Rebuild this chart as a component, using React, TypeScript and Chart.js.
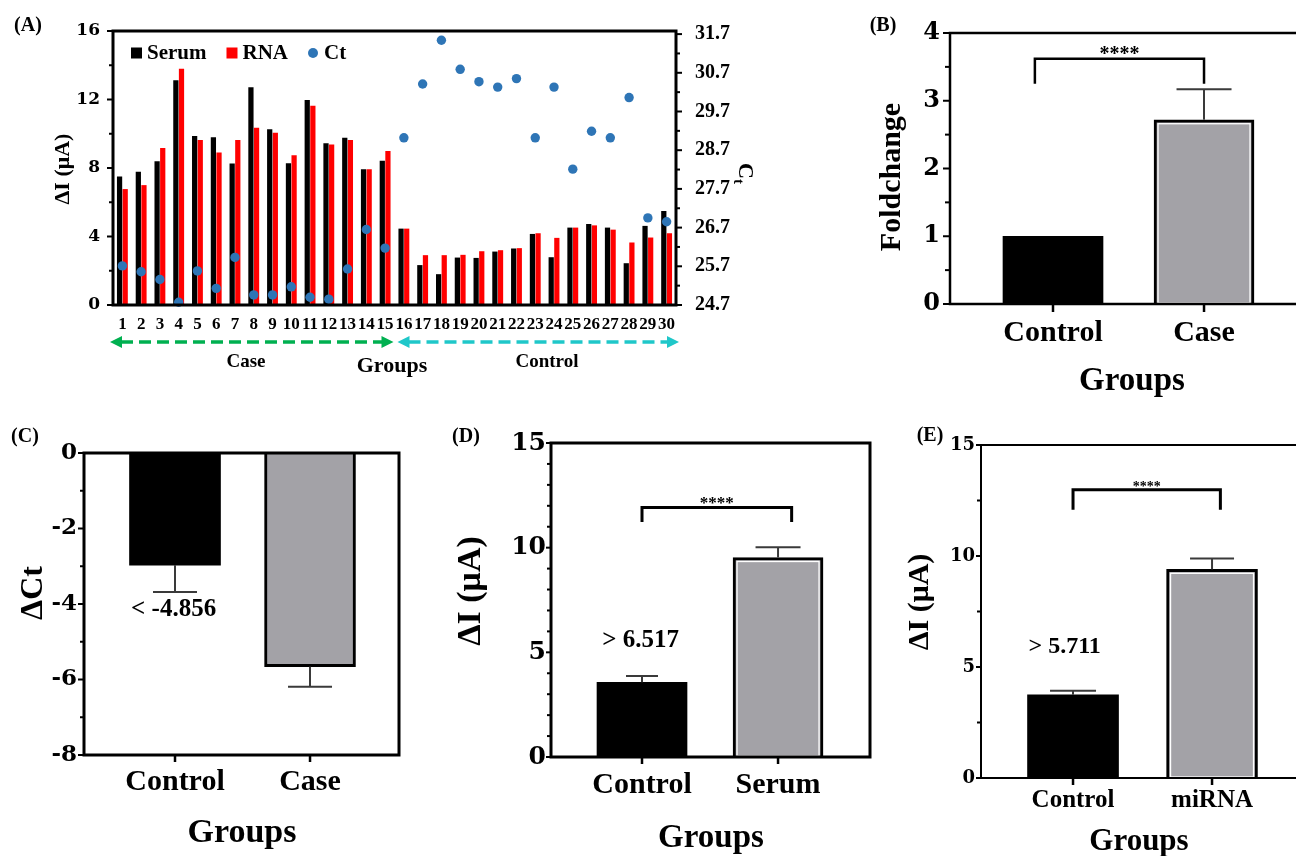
import { useEffect, useRef } from 'react';
import { Chart, registerables } from 'chart.js';

Chart.register(...registerables);

const SERIF = "'Liberation Serif', 'Times New Roman', serif";
const WIDE = "'DejaVu Serif', serif";

// ---------- Panel A data ----------
const SAMPLES = ['1', '2', '3', '4', '5', '6', '7', '8', '9', '10', '11', '12', '13', '14', '15',
  '16', '17', '18', '19', '20', '21', '22', '23', '24', '25', '26', '27', '28', '29', '30'];
const SERUM = [7.5, 7.78, 8.4, 13.13, 9.87, 9.79, 8.26, 12.72, 10.26, 8.28, 11.97, 9.44, 9.77, 7.93, 8.42,
  4.46, 2.33, 1.8, 2.77, 2.75, 3.12, 3.3, 4.15, 2.79, 4.52, 4.73, 4.52, 2.44, 4.62, 5.49];
const RNA = [6.77, 7.0, 9.17, 13.8, 9.64, 8.9, 9.64, 10.35, 10.06, 8.74, 11.63, 9.37, 9.64, 7.93, 9.0,
  4.46, 2.91, 2.91, 2.93, 3.14, 3.2, 3.32, 4.19, 3.92, 4.52, 4.65, 4.4, 3.65, 3.94, 4.19];
const CT = [25.71, 25.56, 25.36, 24.77, 25.58, 25.13, 25.93, 24.96, 24.96, 25.17, 24.9, 24.85, 25.63, 26.65, 26.17,
  29.02, 30.41, 31.54, 30.79, 30.47, 30.33, 30.55, 29.02, 30.33, 28.21, 29.19, 29.02, 30.06, 26.95, 26.85];
const DI_TICKS = [0, 4, 8, 12, 16];
const CT_TICKS = [24.7, 25.7, 26.7, 27.7, 28.7, 29.7, 30.7, 31.7];

// ---------- Panel B ----------
const B_GROUPS = ['Control', 'Case'];
const B_FOLD = [1.0, 2.72];
const B_ERR = [0, 0.45];
// ---------- Panel C ----------
const C_GROUPS = ['Control', 'Case'];
const C_DCT = [-2.97, -5.66];
const C_ERR = [0.71, 0.53];
// ---------- Panel D ----------
const D_GROUPS = ['Control', 'Serum'];
const D_DI = [3.57, 9.53];
const D_ERR = [0.30, 0.49];
// ---------- Panel E ----------
const E_GROUPS = ['Control', 'miRNA'];
const E_DI = [3.75, 9.40];
const E_ERR = [0.18, 0.49];

function txt(ctx: CanvasRenderingContext2D, s: string, x: number, y: number, size: number,
  o: { family?: string; align?: CanvasTextAlign; baseline?: CanvasTextBaseline; rot?: number; color?: string } = {}) {
  ctx.save();
  ctx.translate(x, y);
  if (o.rot) ctx.rotate(o.rot);
  ctx.font = `bold ${size}px ${o.family ?? SERIF}`;
  ctx.fillStyle = o.color ?? '#000';
  ctx.textAlign = o.align ?? 'center';
  ctx.textBaseline = o.baseline ?? 'middle';
  ctx.fillText(s, 0, 0);
  ctx.restore();
}

function seg(ctx: CanvasRenderingContext2D, x1: number, y1: number, x2: number, y2: number) {
  ctx.beginPath();
  ctx.moveTo(x1, y1);
  ctx.lineTo(x2, y2);
  ctx.stroke();
}

function dashedArrow(ctx: CanvasRenderingContext2D, x1: number, x2: number, y: number, color: string) {
  ctx.save();
  ctx.strokeStyle = color;
  ctx.fillStyle = color;
  ctx.lineWidth = 3.5;
  ctx.setLineDash([12, 6]);
  seg(ctx, x1 + 11, y, x2 - 11, y);
  ctx.setLineDash([]);
  ctx.beginPath();
  ctx.moveTo(x1, y); ctx.lineTo(x1 + 12, y - 6); ctx.lineTo(x1 + 12, y + 6); ctx.closePath(); ctx.fill();
  ctx.beginPath();
  ctx.moveTo(x2, y); ctx.lineTo(x2 - 12, y - 6); ctx.lineTo(x2 - 12, y + 6); ctx.closePath(); ctx.fill();
  ctx.restore();
}

function buildA(canvas: HTMLCanvasElement) {
  const decor = {
    id: 'decorA',
    afterDraw(chart: any) {
      const ctx: CanvasRenderingContext2D = chart.ctx;
      const { left, right, top, bottom } = chart.chartArea;
      const xs = chart.scales.x, ys = chart.scales.y, y2 = chart.scales.y2;
      ctx.save();
      ctx.strokeStyle = '#000';
      ctx.lineWidth = 2;
      ys.ticks.forEach((t: any) => { const p = ys.getPixelForValue(t.value); seg(ctx, left - (t.label ? 6 : 4), p, left, p); });
      y2.ticks.forEach((t: any) => { const p = y2.getPixelForValue(t.value); seg(ctx, right, p, right + (t.label ? 6 : 4), p); });
      ctx.lineWidth = 3;
      ctx.strokeRect(left, top, right - left, bottom - top);
      // legend
      let lx = left + 18;
      const ly = top + 22;
      chart.data.datasets.forEach((ds: any) => {
        ctx.fillStyle = ds.type === 'line' ? ds.pointBackgroundColor : ds.backgroundColor;
        if (ds.type === 'line') {
          ctx.beginPath(); ctx.arc(lx + 5, ly, 5, 0, Math.PI * 2); ctx.fill();
        } else {
          ctx.fillRect(lx, ly - 5.5, 11, 11);
        }
        ctx.font = `bold 21px ${SERIF}`;
        const w = ctx.measureText(ds.label).width;
        txt(ctx, ds.label, lx + 16, ly + 1, 21, { align: 'left' });
        lx += 16 + w + 20;
      });
      // titles
      txt(ctx, '(A)', 28, 26, 20);
      txt(ctx, 'ΔI (μA)', 63, 169, 22, { rot: -Math.PI / 2 });
      ctx.save();
      ctx.translate(746, 172);
      ctx.rotate(Math.PI / 2);
      ctx.fillStyle = '#000';
      ctx.textBaseline = 'alphabetic';
      ctx.textAlign = 'left';
      ctx.font = `bold 22px ${SERIF}`;
      ctx.fillText('C', -9, 7);
      ctx.font = `bold 15px ${SERIF}`;
      ctx.fillText('t', 7, 12);
      ctx.restore();
      // group arrows
      const split = (xs.getPixelForValue(14) + xs.getPixelForValue(15)) / 2;
      dashedArrow(ctx, left - 3, split - 1, 342, '#00b050');
      dashedArrow(ctx, split + 3, right + 3, 342, '#1fc7c9');
      txt(ctx, 'Case', 246, 362, 19);
      txt(ctx, 'Groups', 392, 366, 22);
      txt(ctx, 'Control', 547, 362, 19);
      ctx.restore();
    },
  };
  const ctTickValues: number[] = [];
  CT_TICKS.forEach((v, i) => {
    ctTickValues.push(v);
    if (i < CT_TICKS.length - 1) ctTickValues.push(+(v + 0.5).toFixed(1));
  });
  return new Chart(canvas, {
    data: {
      labels: SAMPLES,
      datasets: [
        { type: 'bar', label: 'Serum', data: SERUM, backgroundColor: '#000000', yAxisID: 'y', order: 2, barPercentage: 0.93, categoryPercentage: 0.6 },
        { type: 'bar', label: 'RNA', data: RNA, backgroundColor: '#ff0000', yAxisID: 'y', order: 2, barPercentage: 0.93, categoryPercentage: 0.6 },
        { type: 'line', label: 'Ct', data: CT, yAxisID: 'y2', order: 1, showLine: false, pointRadius: 4.7, pointBackgroundColor: '#2e75b6', pointBorderWidth: 0, borderColor: '#2e75b6', clip: false } as any,
      ],
    } as any,
    options: {
      responsive: false,
      animation: false,
      devicePixelRatio: 1,
      layout: { padding: { top: 30, left: 0, right: 0, bottom: 0 } },
      plugins: { legend: { display: false }, tooltip: { enabled: false } },
      scales: {
        x: {
          type: 'category',
          grid: { display: false, drawTicks: false },
          border: { display: false },
          ticks: { font: { family: SERIF, size: 17, weight: 'bold' }, color: '#000', padding: 9, autoSkip: false, maxRotation: 0, minRotation: 0 },
          afterFit: (s: any) => { s.height = 75; },
        },
        y: {
          position: 'left', min: 0, max: 16,
          grid: { display: false, drawTicks: false },
          border: { display: false },
          ticks: { stepSize: 2, autoSkip: false, callback: (v: any) => (DI_TICKS.includes(Number(v)) ? String(v) : ''), font: { family: WIDE, size: 17, weight: 'bold' }, color: '#000', padding: 13 },
          afterFit: (s: any) => { s.width = 113; },
        },
        y2: {
          position: 'right', min: 24.7, max: 31.78,
          grid: { display: false, drawTicks: false },
          border: { display: false },
          afterBuildTicks: (s: any) => { s.ticks = ctTickValues.map((v) => ({ value: v })); },
          ticks: { autoSkip: false, callback: (v: any) => (CT_TICKS.includes(Number(v)) ? Number(v).toFixed(1) : ''), font: { family: SERIF, size: 20, weight: 'bold' }, color: '#000', padding: 19 },
          afterFit: (s: any) => { s.width = 84; },
        },
      },
    } as any,
    plugins: [decor],
  });
}

type GP = {
  ox: number; oy: number;
  groups: string[]; means: number[]; errs: number[];
  ymin: number; ymax: number; ystep: number; ylabel: number;
  xmin: number; xmax: number; barW: number; caps: number[];
  inner: boolean; openRight: boolean; frameW: number;
  leftW: number; topPad: number; rightPad: number; bottomH: number;
  tickFont: number; xFont: number; yPad: number; xPad: number;
  tickMajor: number; tickMinor: number; xTick: number;
  bracket?: { x1: number; x2: number; top: number; end: number; lw: number; star: number };
  note?: { text: string; x: number; y: number; size: number };
  texts: { s: string; x: number; y: number; size: number; rot?: number }[];
};

const isMult = (v: number, step: number) => Math.abs(v / step - Math.round(v / step)) < 1e-6;

function buildGroup(canvas: HTMLCanvasElement, p: GP) {
  const gray = '#a3a2a7';
  const decor = {
    id: 'decorG',
    afterDraw(chart: any) {
      const ctx: CanvasRenderingContext2D = chart.ctx;
      const { left, right, top, bottom } = chart.chartArea;
      const xs = chart.scales.x, ys = chart.scales.y;
      ctx.save();
      const meta = chart.getDatasetMeta(0);
      if (p.inner) {
        const bar = meta.data[1];
        const { x, y, base, width } = bar.getProps(['x', 'y', 'base', 'width'], true);
        ctx.strokeStyle = '#ffffff';
        ctx.lineWidth = 1.3;
        const l = x - width / 2 + 4, r = x + width / 2 - 4;
        const t = Math.min(y, base) + 4, b = Math.max(y, base) - 1;
        ctx.strokeRect(l, t, r - l, b - t);
      }
      // error bars
      ctx.strokeStyle = '#3a3a3a';
      ctx.lineWidth = 2;
      p.means.forEach((m, i) => {
        const e = p.errs[i];
        if (!e) return;
        const end = m < 0 ? m - e : m + e;
        const px = xs.getPixelForValue(i + 1);
        const y0 = ys.getPixelForValue(m), y1 = ys.getPixelForValue(end);
        seg(ctx, px, y0, px, y1);
        seg(ctx, px - p.caps[i] / 2, y1, px + p.caps[i] / 2, y1);
      });
      // frame
      ctx.strokeStyle = '#000';
      ctx.lineWidth = p.frameW;
      if (p.openRight) {
        ctx.beginPath();
        ctx.moveTo(right, top); ctx.lineTo(left, top); ctx.lineTo(left, bottom); ctx.lineTo(right, bottom);
        ctx.stroke();
      } else {
        ctx.strokeRect(left, top, right - left, bottom - top);
      }
      // ticks
      ctx.lineWidth = 2;
      ys.ticks.forEach((t: any) => { const py = ys.getPixelForValue(t.value); seg(ctx, left - (t.label ? p.tickMajor : p.tickMinor), py, left, py); });
      ctx.lineWidth = 2.5;
      xs.ticks.forEach((t: any) => { const px = xs.getPixelForValue(t.value); seg(ctx, px, bottom, px, bottom + p.xTick); });
      // bracket
      if (p.bracket) {
        const bk = p.bracket;
        const x1 = xs.getPixelForValue(bk.x1), x2 = xs.getPixelForValue(bk.x2);
        const yt = ys.getPixelForValue(bk.top), ye = ys.getPixelForValue(bk.end);
        ctx.lineWidth = bk.lw;
        ctx.beginPath();
        ctx.moveTo(x1, ye); ctx.lineTo(x1, yt); ctx.lineTo(x2, yt); ctx.lineTo(x2, ye);
        ctx.stroke();
        txt(ctx, '****', (x1 + x2) / 2, yt + bk.star * 0.05, bk.star, { baseline: 'alphabetic' });
      }
      if (p.note) {
        txt(ctx, p.note.text, xs.getPixelForValue(p.note.x), ys.getPixelForValue(p.note.y), p.note.size);
      }
      p.texts.forEach((t) => txt(ctx, t.s, t.x - p.ox, t.y - p.oy, t.size, { rot: t.rot }));
      ctx.restore();
    },
  };
  return new Chart(canvas, {
    type: 'bar',
    data: {
      datasets: [{
        data: p.means.map((m, i) => ({ x: i + 1, y: m })),
        backgroundColor: p.means.map((_, i) => (i === 0 ? '#000000' : gray)),
        borderColor: '#000000',
        borderWidth: p.means.map((_, i) => (i === 0 ? 0 : 3)),
        barThickness: p.barW,
        borderSkipped: 'start',
      }],
    } as any,
    options: {
      responsive: false,
      animation: false,
      devicePixelRatio: 1,
      layout: { padding: { top: p.topPad, right: p.rightPad, left: 0, bottom: 0 } },
      plugins: { legend: { display: false }, tooltip: { enabled: false } },
      scales: {
        x: {
          type: 'linear', min: p.xmin, max: p.xmax, offset: false,
          grid: { display: false, drawTicks: false, offset: false },
          border: { display: false },
          afterBuildTicks: (s: any) => { s.ticks = p.groups.map((_, i) => ({ value: i + 1 })); },
          ticks: { autoSkip: false, maxRotation: 0, minRotation: 0, callback: (v: any) => p.groups[Math.round(Number(v)) - 1] ?? '', font: { family: SERIF, size: p.xFont, weight: 'bold' }, color: '#000', padding: p.xPad },
          afterFit: (s: any) => { s.height = p.bottomH; },
        },
        y: {
          min: p.ymin, max: p.ymax,
          grid: { display: false, drawTicks: false },
          border: { display: false },
          ticks: { stepSize: p.ystep, autoSkip: false, callback: (v: any) => (isMult(Number(v), p.ylabel) ? String(v) : ''), font: { family: WIDE, size: p.tickFont, weight: 'bold' }, color: '#000', padding: p.yPad },
          afterFit: (s: any) => { s.width = p.leftW; },
        },
      },
    } as any,
    plugins: [decor],
  });
}

const PB: GP = {
  ox: 840, oy: 0, groups: B_GROUPS, means: B_FOLD, errs: B_ERR,
  ymin: 0, ymax: 4, ystep: 0.5, ylabel: 1, xmin: 0.318, xmax: 2.609, barW: 100, caps: [55, 55],
  inner: true, openRight: true, frameW: 2.5,
  leftW: 110, topPad: 33, rightPad: 0, bottomH: 106,
  tickFont: 24, xFont: 30, yPad: 10, xPad: 11, tickMajor: 7, tickMinor: 5, xTick: 8,
  bracket: { x1: 0.88, x2: 2.0, top: 3.62, end: 3.25, lw: 2.5, star: 20 },
  texts: [
    { s: '(B)', x: 883, y: 26, size: 20 },
    { s: 'Foldchange', x: 892, y: 177, size: 30, rot: -Math.PI / 2 },
    { s: 'Groups', x: 1132, y: 381, size: 33 },
  ],
};

const PC: GP = {
  ox: 0, oy: 420, groups: C_GROUPS, means: C_DCT, errs: C_ERR,
  ymin: -8, ymax: 0, ystep: 1, ylabel: 2, xmin: 0.326, xmax: 2.659, barW: 91, caps: [44, 44],
  inner: false, openRight: false, frameW: 3,
  leftW: 84, topPad: 33, rightPad: 21, bottomH: 101,
  tickFont: 23, xFont: 30, yPad: 7, xPad: 9, tickMajor: 6, tickMinor: 4, xTick: 7,
  note: { text: '< -4.856', x: 0.99, y: -4.16, size: 25 },
  texts: [
    { s: '(C)', x: 25, y: 437, size: 20 },
    { s: 'ΔCt', x: 34, y: 593, size: 32, rot: -Math.PI / 2 },
    { s: 'Groups', x: 242, y: 833, size: 34 },
  ],
};

const PD: GP = {
  ox: 420, oy: 420, groups: D_GROUPS, means: D_DI, errs: D_ERR,
  ymin: 0, ymax: 15, ystep: 1, ylabel: 5, xmin: 0.331, xmax: 2.676, barW: 90, caps: [32, 45],
  inner: true, openRight: false, frameW: 3,
  leftW: 131, topPad: 23, rightPad: 20, bottomH: 99,
  tickFont: 25, xFont: 30, yPad: 5, xPad: 10, tickMajor: 5, tickMinor: 4, xTick: 7,
  bracket: { x1: 1.0, x2: 2.1, top: 11.92, end: 11.23, lw: 3, star: 17 },
  note: { text: '> 6.517', x: 0.99, y: 5.54, size: 25 },
  texts: [
    { s: '(D)', x: 466, y: 437, size: 20 },
    { s: 'ΔI (μA)', x: 471, y: 591, size: 34, rot: -Math.PI / 2 },
    { s: 'Groups', x: 711, y: 838, size: 33 },
  ],
};

const PE: GP = {
  ox: 880, oy: 420, groups: E_GROUPS, means: E_DI, errs: E_ERR,
  ymin: 0, ymax: 15, ystep: 2.5, ylabel: 5, xmin: 0.338, xmax: 2.604, barW: 91, caps: [46, 44],
  inner: true, openRight: true, frameW: 2,
  leftW: 101, topPad: 25, rightPad: 0, bottomH: 78,
  tickFont: 18, xFont: 25, yPad: 6, xPad: 8, tickMajor: 5, tickMinor: 4, xTick: 7,
  bracket: { x1: 1.0, x2: 2.06, top: 12.98, end: 12.08, lw: 3, star: 14 },
  note: { text: '> 5.711', x: 0.94, y: 5.91, size: 24 },
  texts: [
    { s: '(E)', x: 930, y: 436, size: 20 },
    { s: 'ΔI (μA)', x: 920, y: 602, size: 30, rot: -Math.PI / 2 },
    { s: 'Groups', x: 1139, y: 842, size: 31 },
  ],
};

function ChartCanvas({ left, top, width, height, build }: { left: number; top: number; width: number; height: number; build: (c: HTMLCanvasElement) => Chart }) {
  const ref = useRef<HTMLCanvasElement>(null);
  useEffect(() => {
    const chart = build(ref.current as HTMLCanvasElement);
    return () => chart.destroy();
  }, []);
  return <canvas ref={ref} width={width} height={height} style={{ position: 'absolute', left, top }} />;
}

export default function App() {
  return (
    <div style={{ position: 'absolute', left: 0, top: 0, width: 1296, height: 856, background: '#fff', overflow: 'hidden' }}>
      <ChartCanvas left={0} top={0} width={760} height={380} build={buildA} />
      <ChartCanvas left={840} top={0} width={456} height={410} build={(c) => buildGroup(c, PB)} />
      <ChartCanvas left={0} top={420} width={420} height={436} build={(c) => buildGroup(c, PC)} />
      <ChartCanvas left={420} top={420} width={470} height={436} build={(c) => buildGroup(c, PD)} />
      <ChartCanvas left={880} top={420} width={416} height={436} build={(c) => buildGroup(c, PE)} />
    </div>
  );
}
